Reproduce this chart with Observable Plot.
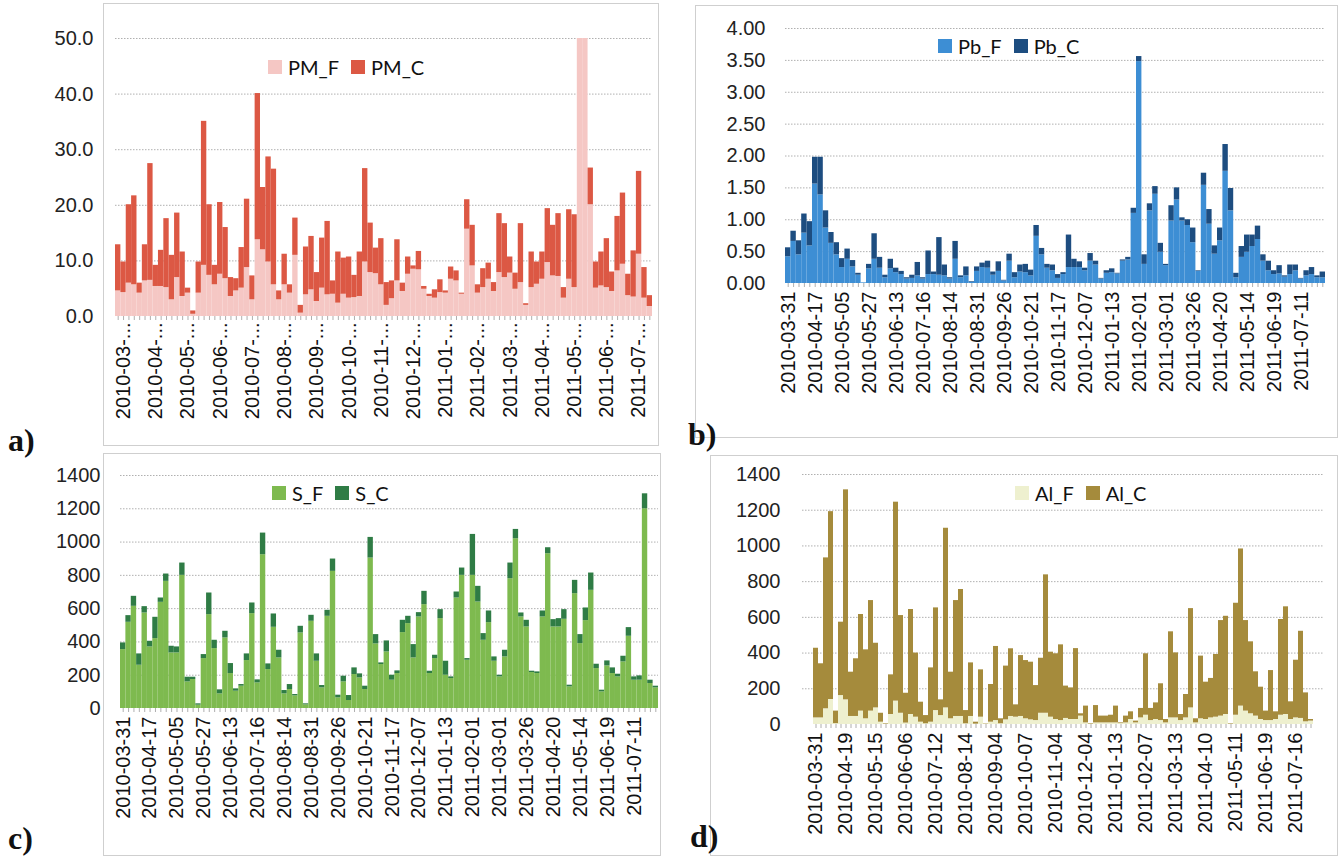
<!DOCTYPE html>
<html>
<head>
<meta charset="utf-8">
<script src="https://cdn.jsdelivr.net/npm/d3@7"></script>
<script src="https://cdn.jsdelivr.net/npm/@observablehq/plot@0.6"></script>
<style>
  html, body { margin: 0; padding: 0; background: #fff; }
  #root { position: relative; width: 1338px; height: 856px; overflow: hidden; font-family: "Liberation Sans", Arial, sans-serif; }
  .frame { position: absolute; border: 1px solid #cfcfcf; box-sizing: border-box; }
  .plot { position: absolute; }
  .legend { position: absolute; font-family: Lato, "Open Sans", sans-serif; font-size: 20px; color: #111; display: flex; align-items: center; white-space: nowrap; }
  .legend .sw { width: 14px; height: 14px; display: inline-block; margin-right: 6px; }
  .legend .item { display: inline-flex; align-items: center; margin-right: 12px; }
  .tag { position: absolute; font-family: "Liberation Serif", "DejaVu Serif", serif; font-weight: bold; font-size: 32px; line-height: 32px; color: #111; }
</style>
</head>
<body>
<div id="root"></div>
<script>
// ---------- data ----------
const sampleIndex = d3.range(100);

const PM_F = [4.6,4.3,6.0,5.7,4.2,6.4,6.5,5.4,5.4,5.2,3.0,7.0,3.6,4.2,0.4,4.2,9.2,7.4,5.7,7.6,
  6.8,3.6,4.6,5.1,8.8,3.0,13.8,12.0,9.8,5.7,3.0,5.7,4.2,11.0,0.6,3.9,4.8,2.7,5.1,3.9,
  4.0,2.4,4.0,3.3,3.4,3.6,9.8,7.9,7.7,5.7,2.0,3.2,6.4,4.5,7.6,8.5,8.4,4.9,3.6,3.3,
  4.3,4.2,6.7,6.4,4.0,15.7,9.1,4.2,5.2,6.7,4.5,7.9,7.0,7.8,4.9,6.1,2.0,5.2,5.8,6.7,
  9.7,7.3,7.2,3.3,6.7,5.2,55,55,20.1,5.1,5.5,5.2,4.5,8.2,9.4,3.75,3.5,11.2,3.3,1.8];
const PM_C = [8.3,5.5,14.1,16.0,1.8,6.5,21.0,3.8,6.5,12.4,8.0,11.6,8.0,0.9,0.6,5.6,25.9,12.7,3.5,12.9,
  9.2,3.4,2.2,7.3,12.3,4.3,26.3,11.2,18.9,20.8,1.6,5.5,1.5,6.7,1.4,8.6,9.6,5.2,9.0,13.2,
  2.4,9.2,6.5,7.4,4.0,8.0,16.8,8.9,4.6,8.3,4.1,3.2,7.4,1.5,3.1,0.6,3.3,0.5,0.4,1.5,
  2.3,0.4,2.2,1.8,0.2,5.3,7.3,1.5,3.4,2.9,1.6,10.6,9.7,2.9,2.9,10.6,0.3,6.4,4.0,4.9,
  9.7,9.1,11.3,1.9,12.5,13.1,0,0,6.6,4.7,6.1,8.8,3.5,9.8,12.8,3.85,8.3,14.9,5.5,1.95];

const Pb_F = [0.42,0.66,0.45,0.79,0.59,1.56,1.39,0.87,0.63,0.45,0.25,0.38,0.26,0.13,0.01,0.23,0.38,0.24,0.09,0.23,
  0.17,0.14,0.07,0.08,0.12,0.07,0.14,0.14,0.13,0.12,0.07,0.38,0.09,0.12,0.02,0.19,0.25,0.24,0.13,0.19,
  0.04,0.35,0.09,0.18,0.17,0.12,0.74,0.45,0.24,0.20,0.08,0.14,0.25,0.25,0.25,0.20,0.35,0.29,0.07,0.16,
  0.17,0.15,0.35,0.37,1.10,3.48,0.30,1.14,1.40,0.49,0.28,0.98,1.31,0.98,0.91,0.64,0.19,1.54,0.93,0.46,
  0.67,1.76,1.14,0.09,0.41,0.49,0.58,0.69,0.35,0.20,0.14,0.15,0.10,0.14,0.20,0.07,0.12,0.14,0.09,0.09];
const Pb_C = [0.14,0.16,0.22,0.30,0.38,0.42,0.59,0.27,0.17,0.19,0.14,0.16,0.10,0.03,0,0.07,0.40,0.17,0.04,0.15,
  0.07,0.05,0.02,0.05,0.21,0.02,0.37,0.04,0.59,0.17,0.02,0.28,0.03,0.14,0.01,0.07,0.07,0.11,0.05,0.15,
  0.01,0.11,0.08,0.11,0.13,0.09,0.17,0.10,0.06,0.09,0.06,0.03,0.51,0.13,0.09,0.04,0.12,0.06,0.01,0.04,
  0.06,0.01,0.02,0.04,0.08,0.08,0.15,0.11,0.12,0.14,0.02,0.24,0.19,0.05,0.09,0.23,0.01,0.19,0.23,0.13,
  0.20,0.42,0.35,0.07,0.17,0.27,0.18,0.21,0.10,0.15,0.06,0.13,0.02,0.15,0.09,0.01,0.08,0.11,0.03,0.09];

const S_F = [354,518,614,260,574,370,420,638,764,334,334,800,160,174,20,300,564,360,88,424,
  210,104,134,288,570,154,924,234,488,304,88,114,76,454,22,524,284,124,554,824,
  64,160,48,204,184,114,904,388,264,340,170,210,456,510,304,550,624,210,300,540,
  200,180,664,800,290,800,640,410,516,284,190,310,780,1020,550,490,216,210,550,930,
  490,490,536,130,690,390,528,710,240,100,256,210,190,280,434,170,170,1200,150,124];
const S_C = [40,40,60,68,38,34,128,26,44,40,36,74,28,14,8,24,130,50,24,40,
  60,14,10,40,64,18,130,34,80,46,20,30,8,40,6,36,44,14,36,74,
  16,34,30,40,24,20,124,56,10,66,30,16,74,44,80,26,80,14,20,54,
  84,10,36,44,10,246,94,40,70,26,10,40,94,56,24,40,8,10,36,36,
  44,50,58,10,80,54,76,104,26,10,30,34,16,34,52,20,26,90,20,10];

const Al_F = [37,37,88,140,5,162,138,45,45,75,32,75,93,13,2,56,131,63,8,56,
  41,13,4,13,78,50,93,32,45,45,4,45,2,41,2,13,22,4,26,45,
  41,45,32,26,22,63,63,41,28,22,34,28,28,47,9,2,9,9,9,9,
  9,5,9,28,9,37,52,22,28,22,9,37,37,22,37,93,9,32,28,37,
  41,47,56,2,52,103,75,60,47,28,22,22,28,52,56,28,37,34,15,19];
const Al_C = [390,303,845,1052,70,411,1176,248,323,541,386,619,362,50,3,222,1114,547,167,588,
  359,112,46,304,575,88,1006,261,649,711,74,300,11,265,2,211,415,28,301,379,
  69,341,326,323,196,308,775,364,368,424,181,177,397,13,94,3,97,38,38,43,
  94,4,38,43,10,53,344,68,93,206,19,482,364,34,131,556,23,351,209,221,
  351,535,550,3,627,880,507,403,248,181,53,280,43,536,603,99,323,488,162,9];

const labelsA = ["2010-03-...","2010-04-...","2010-05-...","2010-06-...","2010-07-...","2010-08-...",
  "2010-09-...","2010-10-...","2010-11-...","2010-12-...","2011-01-...","2011-02-...","2011-03-...",
  "2011-04-...","2011-05-...","2011-06-...","2011-07-..."];
const labelsBC = ["2010-03-31","2010-04-17","2010-05-05","2010-05-27","2010-06-13","2010-07-16",
  "2010-08-14","2010-08-31","2010-09-26","2010-10-21","2010-11-17","2010-12-07","2011-01-13",
  "2011-02-01","2011-03-01","2011-03-26","2011-04-20","2011-05-14","2011-06-19","2011-07-11"];
const labelsD = ["2010-03-31","2010-04-19","2010-05-15","2010-06-06","2010-07-12","2010-08-14",
  "2010-09-04","2010-10-07","2010-11-04","2010-12-04","2011-01-13","2011-02-07","2011-03-13",
  "2011-04-10","2011-05-11","2011-06-19","2011-07-16"];

const ticksA = [0,10,20,30,40,50];
const ticksB = [0,0.5,1,1.5,2,2.5,3,3.5,4];
const ticksCD = [0,200,400,600,800,1000,1200,1400];

// ---------- drawing ----------
const root = document.getElementById("root");

function addFrame(l, t, w, h) {
  const d = document.createElement("div");
  d.className = "frame";
  Object.assign(d.style, {left: l + "px", top: t + "px", width: w + "px", height: h + "px"});
  root.appendChild(d);
}
function addTag(text, l, t) {
  const d = document.createElement("div");
  d.className = "tag"; d.textContent = text;
  Object.assign(d.style, {left: l + "px", top: t + "px"});
  root.appendChild(d);
}
function addLegend(names, colors, l, t) {
  const d = document.createElement("div");
  d.className = "legend";
  Object.assign(d.style, {left: l + "px", top: t + "px"});
  names.forEach((n, k) => {
    const it = document.createElement("span"); it.className = "item";
    const sw = document.createElement("span"); sw.className = "sw"; sw.style.background = colors[k];
    it.appendChild(sw); it.appendChild(document.createTextNode(n));
    d.appendChild(it);
  });
  root.appendChild(d);
}

function panel(o) {
  const rows = [];
  for (const i of sampleIndex) {
    rows.push({i, s: o.names[0], v: o.F[i]});
    rows.push({i, s: o.names[1], v: o.C[i]});
  }
  const labelAt = new Map(o.labels.map((lab, k) => [o.labelStart + k * o.labelStep, lab]));
  const chart = Plot.plot({
    width: o.width, height: o.height,
    marginLeft: o.ml, marginRight: o.mr, marginTop: o.mt, marginBottom: o.mb,
    style: {background: "transparent", fontFamily: '"Liberation Sans", Arial, sans-serif', color: "#222"},
    x: {type: "band", domain: sampleIndex, padding: 0, axis: null},
    y: {domain: [0, o.yMax], axis: null},
    color: {domain: o.names, range: o.colors},
    marks: [
      Plot.gridY(o.yTicks.filter(v => v > 0), {stroke: "#b0b0b0", strokeOpacity: 1, strokeDasharray: "1.5,1.5", strokeWidth: 1}),
      Plot.barY(rows, {x: "i", y: "v", fill: "s", clip: true}),
      Plot.axisY(o.yTicks, {label: null, tickSize: 0, tickPadding: o.yPad, tickFormat: o.yFmt, fontSize: 20, fill: "#222"}),
      Plot.axisX(sampleIndex, {label: null, tickSize: 4, tickFormat: () => "", stroke: "#9a9a9a", strokeWidth: 0.8}),
      Plot.axisX([...labelAt.keys()], {label: null, tickSize: 0, tickPadding: o.xPad, tickRotate: -90, tickFormat: i => labelAt.get(i), fontSize: 20, fill: "#111"})
    ]
  });
  chart.classList.add("plot");
  chart.style.left = o.left + "px";
  chart.style.top = o.top + "px";
  root.appendChild(chart);
}

addFrame(103, 3, 556, 443);
addFrame(695, 5, 643, 433);
addFrame(103, 453, 558, 403);
addFrame(710, 455, 628, 401);

panel({left: 0, top: 0, width: 660, height: 445, ml: 115, mr: 8, mt: 38, mb: 129,
  F: PM_F, C: PM_C, names: ["PM_F", "PM_C"], colors: ["#f5c7c4", "#dc5844"],
  yMax: 50, yTicks: ticksA, yFmt: d3.format(".1f"), yPad: 22, xPad: 6,
  labels: labelsA, labelStart: 1, labelStep: 6});

panel({left: 690, top: 0, width: 648, height: 440, ml: 95, mr: 13, mt: 28, mb: 157,
  F: Pb_F, C: Pb_C, names: ["Pb_F", "Pb_C"], colors: ["#3d8ed4", "#1d4d80"],
  yMax: 4, yTicks: ticksB, yFmt: d3.format(".2f"), yPad: 20, xPad: 8,
  labels: labelsBC, labelStart: 0, labelStep: 5});

panel({left: 0, top: 450, width: 670, height: 406, ml: 120, mr: 12, mt: 25, mb: 148,
  F: S_F, C: S_C, names: ["S_F", "S_C"], colors: ["#7eba4f", "#2f7c45"],
  yMax: 1400, yTicks: ticksCD, yFmt: d3.format("d"), yPad: 20, xPad: 8,
  labels: labelsBC, labelStart: 0, labelStep: 5});

panel({left: 700, top: 450, width: 638, height: 406, ml: 102, mr: 14, mt: 24, mb: 132,
  F: Al_F, C: Al_C, names: ["Al_F", "Al_C"], colors: ["#eef0cf", "#a58b3c"],
  yMax: 1400, yTicks: ticksCD, yFmt: d3.format("d"), yPad: 22, xPad: 8,
  labels: labelsD, labelStart: 0, labelStep: 6});

addLegend(["PM_F", "PM_C"], ["#f5c7c4", "#dc5844"], 268, 55);
addLegend(["Pb_F", "Pb_C"], ["#3d8ed4", "#1d4d80"], 938, 34);
addLegend(["S_F", "S_C"], ["#7eba4f", "#2f7c45"], 272, 481);
addLegend(["Al_F", "Al_C"], ["#eef0cf", "#a58b3c"], 1015, 481);

addTag("a)", 8, 424);
addTag("b)", 688, 418);
addTag("c)", 8, 822);
addTag("d)", 690, 820);
</script>
</body>
</html>
